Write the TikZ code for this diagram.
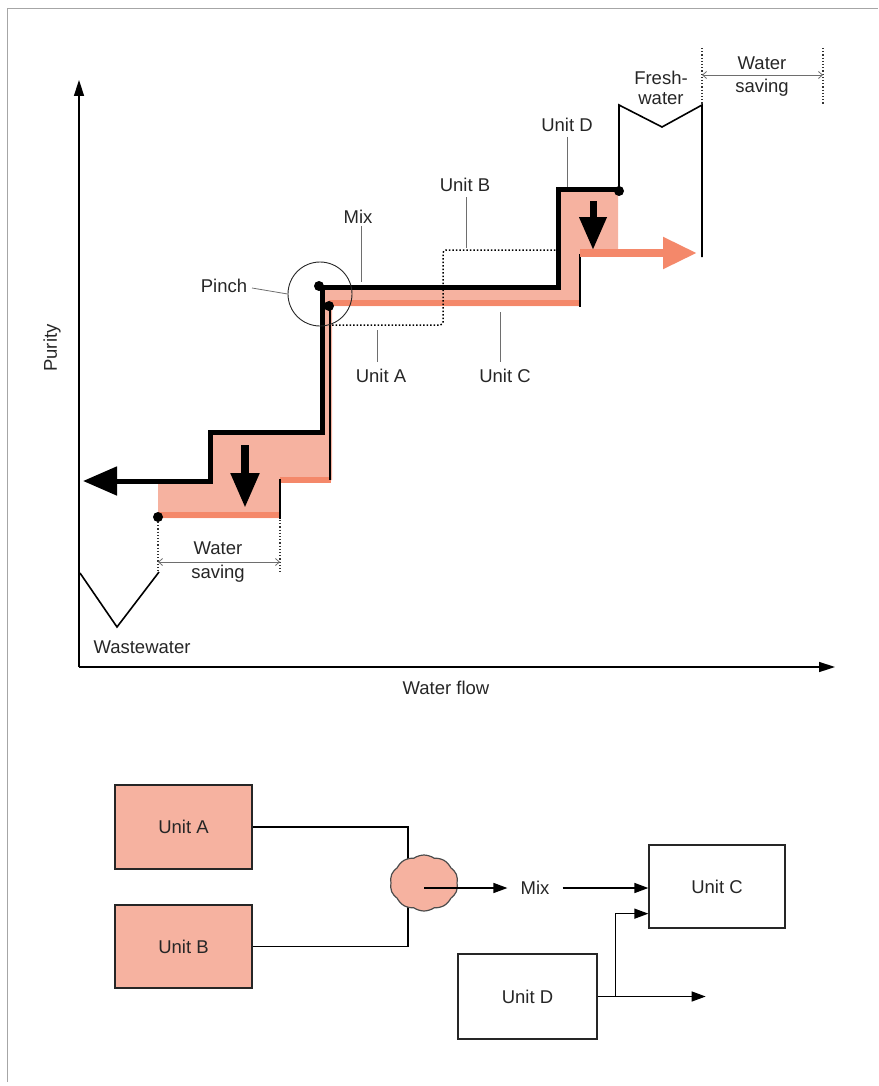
\documentclass[tikz,border=0pt]{standalone}
\usepackage{fontspec}
\setmainfont{Liberation Sans}
\usetikzlibrary{arrows.meta,shapes.symbols,calc}
\definecolor{pinkf}{RGB}{246,178,160}
\definecolor{orng}{RGB}{244,136,106}
\definecolor{txt}{RGB}{38,38,38}
\definecolor{ldr}{RGB}{110,110,110}
\tikzset{
  thickblk/.style={line width=5pt, black, line join=miter},
  thinblk/.style={line width=1.6pt, black},
  leader/.style={ldr, line width=0.8pt},
  dimarrow/.style={ldr, line width=0.8pt, {Straight Barb[length=4pt,width=7pt]}-{Straight Barb[length=4pt,width=7pt]}},
  dimline/.style={dotted, line width=1.2pt, black!80},
  unitdots/.style={dotted, line width=1.5pt, black, rounded corners=3pt},
  dot/.style={circle, fill=black, minimum size=10pt, inner sep=0pt},
  lbl/.style={anchor=base, text=txt, inner sep=0pt},
  unitbox/.style={draw=black!85, line width=1.3pt, text=txt, inner sep=0pt},
  flow/.style={line width=1.4pt, black},
  flowarr/.style={line width=1.4pt, black, -{Triangle[length=14pt,width=10pt]}},
  axisarr/.style={line width=1.5pt, black, -{Triangle[length=16pt,width=10pt]}}
}
\begin{document}
\begin{tikzpicture}[x=1pt,y=-1pt, font=\fontsize{18.5}{21}\selectfont]
\useasboundingbox (0,0) rectangle (878,1086);
% frame
\draw[gray!70, line width=1pt] (7,1082) -- (7,9) -- (878,9);

% axes
\coordinate (O) at (79,667);
\coordinate (ytip) at (79,80);
\coordinate (xtip) at (835,667);
\draw[axisarr] (O) -- (ytip);
\draw[axisarr] (O) -- (xtip);
\node[rotate=90, text=txt, inner sep=0pt] (purity) at (52,348) {Purity};
\node[lbl] (wflow) at (446,694) {Water flow};

% pink regions
\fill[pinkf] (208,432) -- (322,432) -- (322,287) -- (332,287) -- (332,480)
  -- (280,480) -- (280,518) -- (158,518) -- (158,481) -- (208,481) -- cycle;
\fill[pinkf] (322,287) -- (558,287) -- (558,190) -- (618,190) -- (618,250)
  -- (580,250) -- (580,306) -- (322,306) -- cycle;

% orange lines
\draw[orng, line width=6pt] (158,515) -- (280,515);
\draw[orng, line width=6pt] (280,480) -- (331,480);
\draw[orng, line width=6pt] (329,303) -- (580,303);

% thin black lines
\draw[thinblk] (280,479) -- (280,519);
\draw[thinblk] (330,306) -- (330,480);
\draw[thinblk] (580,254) -- (580,307);

% unit A/B dotted
\draw[unitdots] (332,325) -- (443,325) -- (443,250) -- (557,250);

% black staircase with arrow
\draw[thickblk, -{Triangle[length=34pt,width=28pt]}]
  (619,190) -- (558,190) -- (558,287) -- (322,287) -- (322,432)
  -- (210,432) -- (210,481) -- (83,481);

% freshwater
\draw[thinblk, line join=miter] (619,190) -- (619,105) -- (662,127) -- (702,105) -- (702,257);

% down arrows
\draw[line width=8pt, -{Triangle[length=35pt,width=27pt]}] (245,445) -- (245,508);
\draw[line width=7pt, -{Triangle[length=33pt,width=26pt]}] (593,201) -- (593,250);
% orange arrow
\draw[orng, line width=8pt, -{Triangle[length=34pt,width=30pt]}] (580,253) -- (697,253);

% dots
\node[dot] (d1) at (319,286) {};
\node[dot] (d2) at (329,306) {};
\node[dot] (d3) at (619,191) {};
\node[dot] (d4) at (158,517) {};

% pinch circle
\node[circle, draw=black!85, line width=0.9pt, minimum size=64pt, inner sep=0pt] (pc) at (320,294) {};
\node[lbl] (pinch) at (224,292) {Pinch};
\draw[leader] (252,288) -- (pc.west);

% labels with leaders
\node[lbl] (lD) at (567,132) {Unit D};
\draw[leader] (567,137) -- (567,187);
\node[lbl] (lB) at (465,192) {Unit B};
\draw[leader] (466,197) -- (466,248);
\node[lbl] (lM) at (358,223) {Mix};
\draw[leader] (361,226) -- (361,282);
\node[lbl] (lA) at (381,382) {Unit A};
\draw[leader] (377,330) -- (377,362);
\node[lbl] (lC) at (505,382) {Unit C};
\draw[leader] (500,312) -- (500,362);

% freshwater label
\node[lbl] (fw1) at (661,85) {Fresh-};
\node[lbl] (fw2) at (661,105) {water};

% top water saving
\coordinate (ts1) at (702,48);
\coordinate (ts2) at (823,48);
\draw[dimline] (ts1) -- (702,104);
\draw[dimline] (ts2) -- (823,104);
\draw[dimarrow] (702,75) -- (823,75);
\node[lbl] (tw1) at (762,70) {Water};
\node[lbl] (tw2) at (762,93) {saving};

% wastewater
\draw[thinblk, line join=miter] (80,573) -- (117,627) -- (159,572);
\node[lbl] (ww) at (142,653) {Wastewater};

% lower water saving
\draw[dimline] (158,522) -- (158,572);
\draw[dimline] (280,520) -- (280,572);
\draw[dimarrow] (158,562) -- (280,562);
\node[lbl] (lw1) at (218,554) {Water};
\node[lbl] (lw2) at (218,578) {saving};

% ---------- bottom diagram ----------
\node[unitbox, fill=pinkf, minimum width=137pt, minimum height=84pt] (ua) at (183.5,827) {Unit A};
\node[unitbox, fill=pinkf, minimum width=137pt, minimum height=83pt] (ub) at (183.5,946.5) {Unit B};
\node[unitbox, minimum width=136pt, minimum height=83pt] (uc) at (717,886.5) {Unit C};
\node[unitbox, minimum width=139pt, minimum height=85pt] (ud) at (527.5,996.5) {Unit D};

\coordinate (cin) at (408,883);
\draw[flow] (ua.east) -| (cin);
\draw[flow] (ub.east) -| (cin);
\node[cloud, cloud puffs=10, cloud puff arc=70, aspect=1.2, fill=pinkf,
      draw=black!70, line width=1.2pt, minimum width=68pt, minimum height=56pt,
      inner sep=0pt] (cl) at (424,883) {};
\node[text=txt, inner xsep=13pt, inner ysep=0pt] (mix) at (535,888) {Mix};
\draw[flowarr] (cl.center |- mix.west) -- (mix.west);
\draw[flowarr] (mix.east) -- (uc.west |- mix.east);
\coordinate (br) at ($(ud.east)+(18,0)$);
\coordinate (out) at ($(ud.east)+(108,0)$);
\draw[flowarr] (ud.east) -- (out);
\draw[flowarr] (br) |- ($(uc.south west)+(0,-15)$);
\end{tikzpicture}
\end{document}
